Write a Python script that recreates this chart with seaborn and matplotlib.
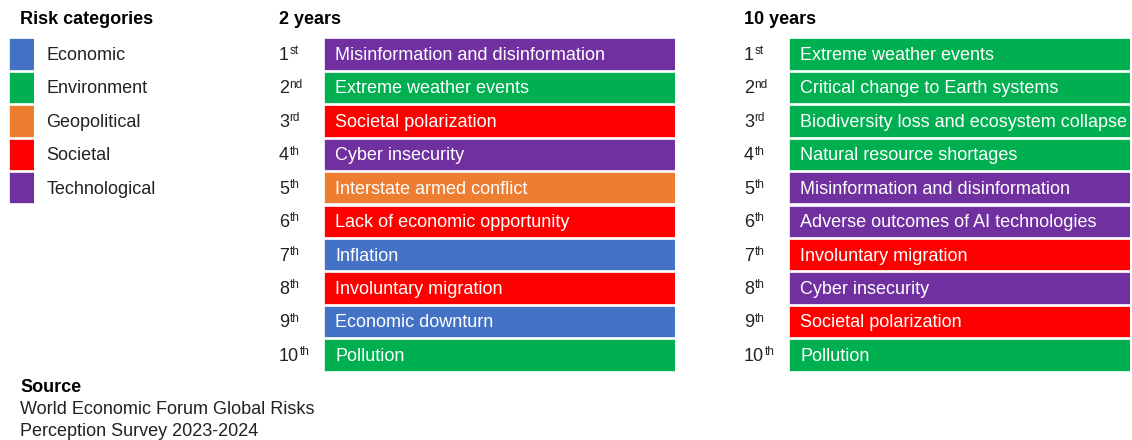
import matplotlib
matplotlib.use("Agg")
import matplotlib.pyplot as plt
import seaborn as sns
import pandas as pd

# ---------------- data ----------------
categories = ["Economic", "Environment", "Geopolitical", "Societal", "Technological"]
category_colors = ["#4472C4", "#00B050", "#ED7D31", "#FF0000", "#7030A0"]

rank_numbers = ["1", "2", "3", "4", "5", "6", "7", "8", "9", "10"]
rank_suffixes = ["st", "nd", "rd", "th", "th", "th", "th", "th", "th", "th"]

risks_2y = [
    "Misinformation and disinformation",
    "Extreme weather events",
    "Societal polarization",
    "Cyber insecurity",
    "Interstate armed conflict",
    "Lack of economic opportunity",
    "Inflation",
    "Involuntary migration",
    "Economic downturn",
    "Pollution",
]
cats_2y = ["Technological", "Environment", "Societal", "Technological", "Geopolitical",
           "Societal", "Economic", "Societal", "Economic", "Environment"]

risks_10y = [
    "Extreme weather events",
    "Critical change to Earth systems",
    "Biodiversity loss and ecosystem collapse",
    "Natural resource shortages",
    "Misinformation and disinformation",
    "Adverse outcomes of AI technologies",
    "Involuntary migration",
    "Cyber insecurity",
    "Societal polarization",
    "Pollution",
]
cats_10y = ["Environment", "Environment", "Environment", "Environment", "Technological",
            "Technological", "Societal", "Technological", "Societal", "Environment"]

bar_length = [1] * 10  # every bar spans the full column

panel_titles = ["2 years", "10 years"]
legend_title = "Risk categories"
source_title = "Source"
source_lines = ["World Economic Forum Global Risks", "Perception Survey 2023-2024"]

# ---------------- style ----------------
sns.set_theme(style="white")
plt.rcParams["font.family"] = ["Liberation Sans", "DejaVu Sans"]

W, H = 1132, 440
fig = plt.figure(figsize=(W / 100, H / 100), dpi=100)
palette = dict(zip(categories, category_colors))
TXT = "#222222"
FS = 13
DY = -1.0  # small downward nudge of row text (points)

row = 33.44
top = 37.3


def fx(px):
    return px / W


def fy(py):
    return 1 - py / H


def make_axes(x0, x1, nrows):
    y_top = top
    y_bot = top + nrows * row
    return fig.add_axes([fx(x0), fy(y_bot), fx(x1) - fx(x0), fy(y_top) - fy(y_bot)])


def panel(ax, risks, cats):
    labels = [n + s for n, s in zip(rank_numbers, rank_suffixes)]
    df = pd.DataFrame({"rank": labels, "value": bar_length, "category": cats, "risk": risks})
    sns.barplot(data=df, x="value", y="rank", hue="category", hue_order=categories,
                palette=palette, dodge=False, width=0.94, orient="h", order=labels,
                legend=False, ax=ax, edgecolor="white", linewidth=0.5, saturation=1)
    ax.set_xlim(0, 1)
    ax.set_axis_off()
    for i, (risk, n, s) in enumerate(zip(risks, rank_numbers, rank_suffixes)):
        ax.annotate(risk, xy=(0, i), xytext=(8, DY), textcoords="offset points",
                    ha="left", va="center", color="white", fontsize=FS)
        num = ax.annotate(n, xy=(0, i), xytext=(-32.4, DY), textcoords="offset points",
                          ha="left", va="center", color=TXT, fontsize=FS)
        ax.annotate(s, xy=(1, 1), xycoords=num, xytext=(0.4, 1.2),
                    textcoords="offset points", ha="left", va="top", color=TXT,
                    fontsize=8.5)


ax2 = make_axes(324, 675, 10)
panel(ax2, risks_2y, cats_2y)
ax10 = make_axes(789, 1130, 10)
panel(ax10, risks_10y, cats_10y)

# legend as a small bar column
axl = make_axes(9, 34, 5)
dfl = pd.DataFrame({"category": categories, "value": [1] * 5})
sns.barplot(data=dfl, x="value", y="category", hue="category", hue_order=categories,
            palette=palette, dodge=False, width=0.94, orient="h", order=categories,
            legend=False, ax=axl, edgecolor="white", linewidth=0.5, saturation=1)
axl.set_xlim(0, 1)
axl.set_axis_off()
for i, c in enumerate(categories):
    axl.annotate(c, xy=(1, i), xytext=(9.0, DY), textcoords="offset points",
                 ha="left", va="center", color=TXT, fontsize=FS)

# titles
fig.text(fx(20), fy(20), legend_title, fontsize=FS, fontweight="bold", color="black", va="center")
fig.text(fx(279), fy(20), panel_titles[0], fontsize=FS, fontweight="bold", color="black", va="center")
fig.text(fx(744), fy(20), panel_titles[1], fontsize=FS, fontweight="bold", color="black", va="center")

fig.text(fx(20), fy(387), source_title, fontsize=FS, fontweight="bold", color="black", va="center")
fig.text(fx(20), fy(409), source_lines[0], fontsize=FS, color=TXT, va="center")
fig.text(fx(20), fy(431), source_lines[1], fontsize=FS, color=TXT, va="center")

fig.savefig("out.png", dpi=100, facecolor="white")
